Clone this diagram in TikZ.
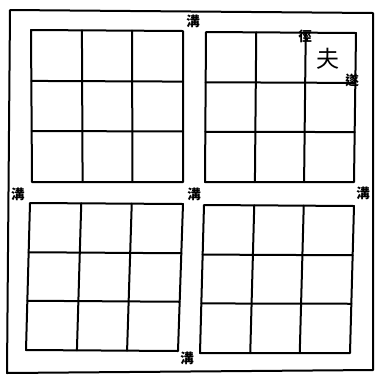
\documentclass[tikz,border=0pt]{standalone}
\usepackage{fontspec}
\newfontfamily\cjk{Noto Sans CJK TC}
\usetikzlibrary{calc}
\tikzset{
  gridline/.style={line width=2pt, line join=round, line cap=round},
  smallchar/.style={font=\cjk\bfseries\fontsize{13.5}{13.5}\selectfont, inner sep=0pt},
  bigchar/.style={font=\cjk\fontsize{23}{23}\selectfont, inner sep=0pt}
}
\newcommand\jinggrid[5]{%
  \coordinate (#1a) at #2;
  \coordinate (#1b) at #3;
  \coordinate (#1c) at #4;
  \coordinate (#1d) at #5;
  \draw[gridline] (#1a)--(#1b)--(#1c)--(#1d)--cycle;
  \foreach \t in {0.335,0.665}{
    \draw[gridline] ($(#1a)!\t!(#1b)$) -- ($(#1d)!\t!(#1c)$);
    \draw[gridline] ($(#1a)!\t!(#1d)$) -- ($(#1b)!\t!(#1c)$);
  }%
}
\begin{document}
\begin{tikzpicture}[x=1pt,y=-1pt]
\useasboundingbox (0,0) rectangle (376,376);
\fill[white] (0,0) rectangle (376,376);
% outer frame
\coordinate (o1) at (10,10);
\coordinate (o2) at (373,13);
\coordinate (o3) at (373,370);
\coordinate (o4) at (7,373);
\draw[gridline] (o1)--(o2)--(o3)--(o4)--cycle;
% four jing blocks
\jinggrid{tl}{(31,30)}{(183,31)}{(183,182)}{(32,182)}
\jinggrid{tr}{(206,32)}{(356,33)}{(354,182)}{(205,182)}
\jinggrid{bl}{(30,203)}{(183,204)}{(178,351)}{(26,350)}
\jinggrid{br}{(204,205)}{(354,206)}{(350,353)}{(200,353)}
% labels
\node[smallchar] (gtop) at (193,21) {溝};
\node[smallchar] (gleft) at (18,194) {溝};
\node[smallchar] (gmid) at (194,194) {溝};
\node[smallchar] (gright) at (363,193) {溝};
\node[smallchar] (gbot) at (187,358) {溝};
\node[smallchar] (jing) at (305,36) {徑};
\node[bigchar] (fu) at (328,59) {夫};
\node[smallchar] (sui) at (352,80) {遂};
\end{tikzpicture}
\end{document}
